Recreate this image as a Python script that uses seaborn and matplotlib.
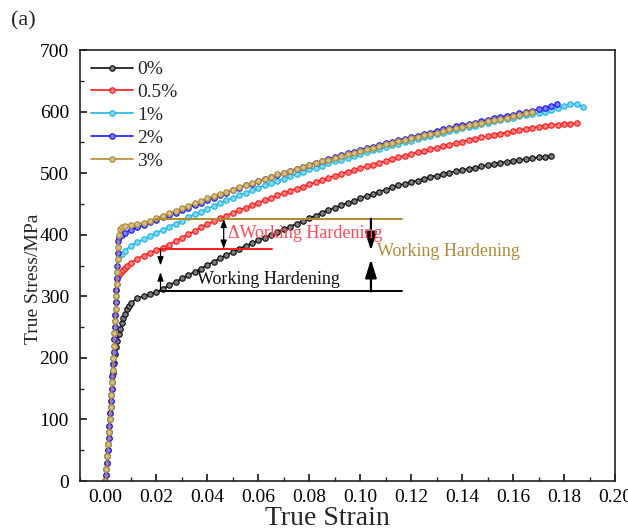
import matplotlib
matplotlib.use("Agg")
import matplotlib.pyplot as plt
import pandas as pd
import seaborn as sns
from matplotlib.ticker import MultipleLocator, FormatStrFormatter
from matplotlib.colors import to_rgb

sns.set_style("ticks")
plt.rcParams['font.family'] = ['Liberation Serif', 'DejaVu Serif']
plt.rcParams['mathtext.fontset'] = 'stix'

# Shared strain grid for the plastic part of every curve
GRID = [0.0100, 0.0125, 0.0150, 0.0175, 0.0200, 0.0225, 0.0250, 0.0275, 0.0300, 0.0325,
        0.0350, 0.0375, 0.0400, 0.0425, 0.0450, 0.0475, 0.0500, 0.0525, 0.0550, 0.0575,
        0.0600, 0.0625, 0.0650, 0.0675, 0.0700, 0.0725, 0.0750, 0.0775, 0.0800, 0.0825,
        0.0850, 0.0875, 0.0900, 0.0925, 0.0950, 0.0975, 0.1000, 0.1025, 0.1050, 0.1075,
        0.1100, 0.1125, 0.1150, 0.1175, 0.1200, 0.1225, 0.1250, 0.1275, 0.1300, 0.1325,
        0.1350, 0.1375, 0.1400, 0.1425, 0.1450, 0.1475, 0.1500, 0.1525, 0.1550, 0.1575,
        0.1600, 0.1625, 0.1650, 0.1675, 0.1700, 0.1725, 0.1750, 0.1775, 0.1800, 0.1825,
        0.1850, 0.1875]

labels = ["0%", "0.5%", "1%", "2%", "3%"]
colors = ["#111111", "#ff1a1a", "#1fb6e6", "#1a1aff", "#b08a30"]

# 0 %
head_strain_0 = [0, 0.0004, 0.0007, 0.0010, 0.0014, 0.0017, 0.0020, 0.0023, 0.0026, 0.0030,
                 0.0034, 0.0038, 0.0042, 0.0047, 0.0052, 0.0057, 0.0063, 0.0070, 0.0077,
                 0.0085, 0.0093]
head_stress_0 = [0, 20, 40, 60, 80, 100, 120, 140, 160, 176,
                 192, 206, 217, 228, 238, 247, 256, 265, 272,
                 279, 285]
stress_0 = [289, 297, 300, 304, 307, 312, 318, 323, 329, 334,
            340, 345, 351, 356, 362, 367, 372, 377, 382, 386,
            391, 395, 400, 404, 409, 413, 418, 422, 427, 431,
            436, 440, 444, 448, 452, 455, 459, 463, 466, 470,
            473, 477, 480, 483, 486, 488, 491, 494, 496, 499,
            501, 503, 505, 507, 509, 511, 513, 515, 517, 518,
            520, 521, 523, 524, 526, 527, 528]
end_0 = ([], [])

# 0.5 %
head_strain_1 = [0, 0.0002, 0.00055, 0.00085, 0.0012, 0.00155, 0.00185, 0.00215, 0.00245,
                 0.00275, 0.0030, 0.0032, 0.0034, 0.00365, 0.0039, 0.0041, 0.0043, 0.0045,
                 0.0052, 0.0059, 0.0067, 0.0075, 0.0085]
head_stress_1 = [0, 10, 30, 50, 70, 90, 110, 130, 150,
                 170, 190, 210, 230, 250, 270, 290, 310, 328,
                 335, 339, 343, 346, 350]
stress_1 = [354, 361, 366, 371, 375, 379, 384, 390, 395, 401,
            406, 412, 417, 422, 427, 431, 436, 440, 444, 448,
            452, 456, 460, 464, 467, 471, 475, 478, 482, 485,
            489, 492, 496, 499, 502, 505, 508, 511, 514, 517,
            520, 523, 526, 528, 531, 534, 536, 539, 541, 544,
            546, 549, 551, 554, 556, 558, 560, 562, 564, 566,
            568, 570, 572, 574, 575, 577, 578, 579, 580, 580,
            581]
end_1 = ([], [])

# 1 %
head_strain_2 = [0, 0.0004, 0.0007, 0.0010, 0.0014, 0.0017, 0.0020, 0.0023, 0.0026, 0.0029,
                 0.0031, 0.0033, 0.0035, 0.0038, 0.0040, 0.0042, 0.0044, 0.0046, 0.0048,
                 0.0055, 0.0065, 0.0075]
head_stress_2 = [0, 20, 40, 60, 80, 100, 120, 140, 160, 180,
                 200, 220, 240, 260, 280, 300, 320, 340, 360,
                 366, 369, 374]
stress_2 = [382, 388, 393, 398, 403, 408, 413, 418, 423, 428,
            433, 437, 442, 447, 451, 456, 460, 464, 468, 472,
            476, 480, 484, 488, 491, 495, 499, 502, 506, 509,
            512, 516, 519, 522, 525, 528, 531, 534, 537, 539,
            542, 545, 547, 550, 553, 555, 558, 560, 563, 565,
            568, 570, 573, 575, 577, 580, 582, 584, 586, 588,
            590, 592, 594, 596, 598, 600, 603, 606, 609, 612,
            612, 608]
end_2 = ([], [])

# 2 %
head_strain_3 = [0, 0.0002, 0.00055, 0.00085, 0.0012, 0.00155, 0.00185, 0.00215, 0.00245,
                 0.00275, 0.0030, 0.0032, 0.0034, 0.00365, 0.0039, 0.0041, 0.0043, 0.0045,
                 0.0047, 0.0049, 0.0051, 0.0055, 0.0065, 0.0075]
head_stress_3 = [0, 10, 30, 50, 70, 90, 110, 130, 150,
                 170, 190, 210, 230, 250, 270, 290, 310, 330,
                 350, 370, 390, 397, 400, 403]
stress_3 = [408, 412, 416, 420, 424, 428, 432, 436, 440, 444,
            448, 452, 456, 460, 464, 468, 472, 476, 480, 483,
            487, 490, 494, 497, 501, 504, 507, 510, 514, 517,
            520, 523, 526, 529, 532, 535, 538, 541, 543, 546,
            549, 551, 554, 556, 559, 561, 564, 566, 569, 571,
            573, 576, 578, 580, 582, 584, 587, 589, 591, 593,
            595, 597, 599, 601, 604, 606, 609]
end_3 = ([0.1771], [612])

# 3 %
head_strain_4 = [0, 0.0004, 0.0007, 0.0010, 0.0014, 0.0017, 0.0020, 0.0023, 0.0026, 0.0029,
                 0.0031, 0.0033, 0.0035, 0.0038, 0.0040, 0.0042, 0.0044, 0.0046, 0.0048,
                 0.0050, 0.0052, 0.0058, 0.0065, 0.0075]
head_stress_4 = [0, 20, 40, 60, 80, 100, 120, 140, 160, 180,
                 200, 220, 240, 260, 280, 300, 320, 340, 360,
                 380, 400, 410, 413, 414]
stress_4 = [416, 417, 419, 423, 427, 431, 435, 439, 443, 447,
            451, 455, 459, 463, 466, 470, 473, 477, 481, 484,
            488, 491, 494, 498, 501, 504, 507, 510, 513, 516,
            519, 522, 525, 528, 531, 533, 536, 539, 541, 544,
            547, 549, 552, 554, 557, 559, 562, 564, 566, 569,
            571, 573, 575, 578, 580, 582, 584, 586, 588, 590,
            592, 595, 597]
end_4 = ([0.1673], [599])

curves = [
    (head_strain_0, head_stress_0, stress_0, end_0),
    (head_strain_1, head_stress_1, stress_1, end_1),
    (head_strain_2, head_stress_2, stress_2, end_2),
    (head_strain_3, head_stress_3, stress_3, end_3),
    (head_strain_4, head_stress_4, stress_4, end_4),
]

fig = plt.figure(figsize=(6.28, 5.32), dpi=100)
ax = fig.add_axes([80 / 628, 51 / 532, 535 / 628, 431 / 532])


def tint(c, f=0.45):
    r, g, b = to_rgb(c)
    return (r + (1 - r) * f, g + (1 - g) * f, b + (1 - b) * f)


for (hs, hy, py, (es, ey)), lab, col in zip(curves, labels, colors):
    strain = list(hs) + GRID[:len(py)] + list(es)
    stress = list(hy) + list(py) + list(ey)
    df = pd.DataFrame({"True Strain": strain, "True Stress": stress})
    sns.lineplot(data=df, x="True Strain", y="True Stress", ax=ax, sort=False,
                 estimator=None, color=col, lw=1.2, marker="o", markersize=3.9,
                 markerfacecolor=tint(col), markeredgecolor=col,
                 markeredgewidth=0.85, label=lab)

# Working-hardening guide lines
gold, red = colors[4], colors[1]
ax.plot([0.020, 0.1165], [426, 426], color=gold, lw=1.4, zorder=5)
ax.plot([0.021, 0.0655], [376, 376], color=red, lw=1.4, zorder=5)
ax.plot([0.021, 0.1165], [308, 308], color="black", lw=1.4, zorder=5)

small = dict(arrowstyle="-|>,head_length=0.5,head_width=0.18", color="black",
             lw=0.9, mutation_scale=10, shrinkA=0, shrinkB=0)
ax.annotate("", xy=(0.0216, 350), xytext=(0.0216, 376), arrowprops=small, zorder=6)
ax.annotate("", xy=(0.0216, 339), xytext=(0.0216, 308), arrowprops=small, zorder=6)
dbl = dict(arrowstyle="<|-|>,head_length=0.5,head_width=0.18", color="black",
           lw=0.9, mutation_scale=10, shrinkA=0, shrinkB=0)
ax.annotate("", xy=(0.0464, 426), xytext=(0.0464, 377), arrowprops=dbl, zorder=6)

big = dict(arrowstyle="-|>,head_length=0.55,head_width=0.17", color="black",
           lw=1.6, mutation_scale=20, shrinkA=0, shrinkB=0)
ax.annotate("", xy=(0.1042, 374), xytext=(0.1042, 426), arrowprops=big, zorder=6)
ax.annotate("", xy=(0.1042, 360), xytext=(0.1042, 308), arrowprops=big, zorder=6)

ax.text(0.0361, 328, "Working Hardening", fontsize=13, color="#111111",
        ha="left", va="center", zorder=7)
ax.text(0.0482, 402, "\u0394Working Hardening", fontsize=13, color="#ff4a55",
        ha="left", va="center", zorder=7)
ax.text(0.1067, 372, "Working Hardening", fontsize=13, color="#b08a3a",
        ha="left", va="center", zorder=7)

ax.set_xlim(-0.01, 0.20)
ax.set_ylim(0, 700)
ax.xaxis.set_major_locator(MultipleLocator(0.02))
ax.xaxis.set_minor_locator(MultipleLocator(0.01))
ax.xaxis.set_major_formatter(FormatStrFormatter("%.2f"))
ax.yaxis.set_major_locator(MultipleLocator(100))
ax.yaxis.set_minor_locator(MultipleLocator(50))
ax.tick_params(which="major", direction="in", length=5, width=1.1, labelsize=14,
               top=False, right=False, colors="black")
ax.tick_params(which="minor", direction="in", length=3, width=1.0,
               top=False, right=False)
ax.tick_params(axis="x", pad=6)
ax.tick_params(axis="y", pad=8)
for sp in ax.spines.values():
    sp.set_linewidth(1.2)
    sp.set_color("#222222")

ax.set_xlabel("True Strain", fontsize=20, va="top")
ax.xaxis.set_label_coords(0.462, -0.058)
ax.set_ylabel("True Stress/MPa", fontsize=14)
ax.yaxis.set_label_coords(-0.071, 0.468)

ax.legend(loc="upper left", bbox_to_anchor=(0.02, 0.975), frameon=False,
          fontsize=14, handlelength=2.2, handletextpad=0.2, labelspacing=0.27,
          borderpad=0, borderaxespad=0)

fig.text(11 / 628, 1 - 11 / 532, "(a)", fontsize=16, ha="left", va="top")

fig.savefig("out.png", dpi=100, facecolor="white")
